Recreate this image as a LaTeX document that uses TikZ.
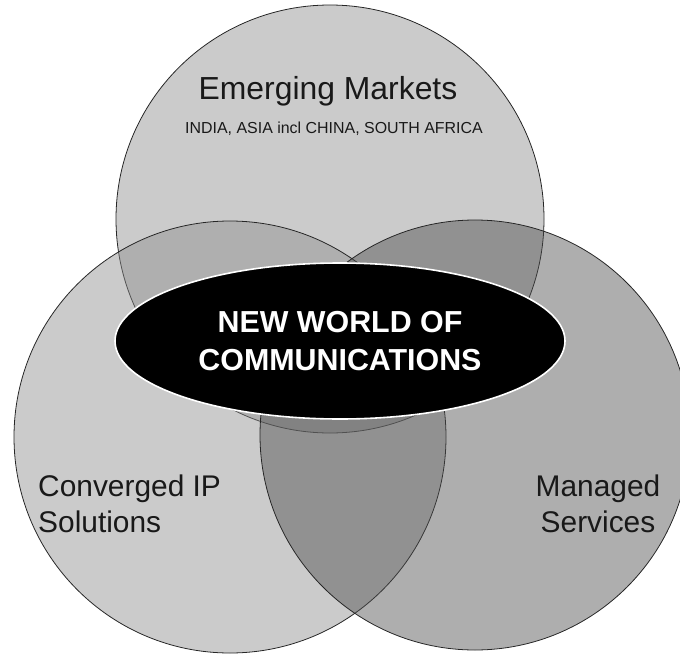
\documentclass[tikz,border=0pt]{standalone}
\usepackage{fontspec}
\setmainfont{Liberation Sans}
\usetikzlibrary{shapes.geometric,positioning}

\tikzset{
  venn/.style={circle,draw=black!85,line width=0.8pt,fill opacity=0.45,inner sep=0pt},
  hub/.style={ellipse,fill=black,draw=white,line width=1.6pt,text=white,align=center,
    minimum width=450bp,minimum height=156bp,font=\fontsize{30.5}{38}\selectfont\bfseries},
  venntext/.style={text=black!90,inner sep=0pt,font=\fontsize{30}{36}\selectfont}
}

\begin{document}
\begin{tikzpicture}[x=1bp,y=-1bp]
  \useasboundingbox (0,0) rectangle (680,655);
  % the three overlapping markets
  \foreach \name/\x/\y/\d/\shade in {markets/330/219/428/45,converged/230/437/432/45,managed/475/435/430/70}{
    \node[venn,fill=black!\shade,minimum size=\d bp] (\name) at (\x,\y) {};
  }
  \node[hub] (world) at (340,341) {NEW WORLD OF\\COMMUNICATIONS};

  \node[venntext,anchor=base,font=\fontsize{32}{36}\selectfont] (markets-title) at (328,100) {Emerging Markets};
  \node[venntext,anchor=base,font=\fontsize{16}{18}\selectfont] (markets-sub) at (334,134) {INDIA, ASIA incl CHINA, SOUTH AFRICA};
  \node[venntext,anchor=west,align=left] (converged-text) at (38,504) {Converged IP\\Solutions};
  \node[venntext,align=center] (managed-text) at (598,504) {Managed\\Services};
\end{tikzpicture}
\end{document}
